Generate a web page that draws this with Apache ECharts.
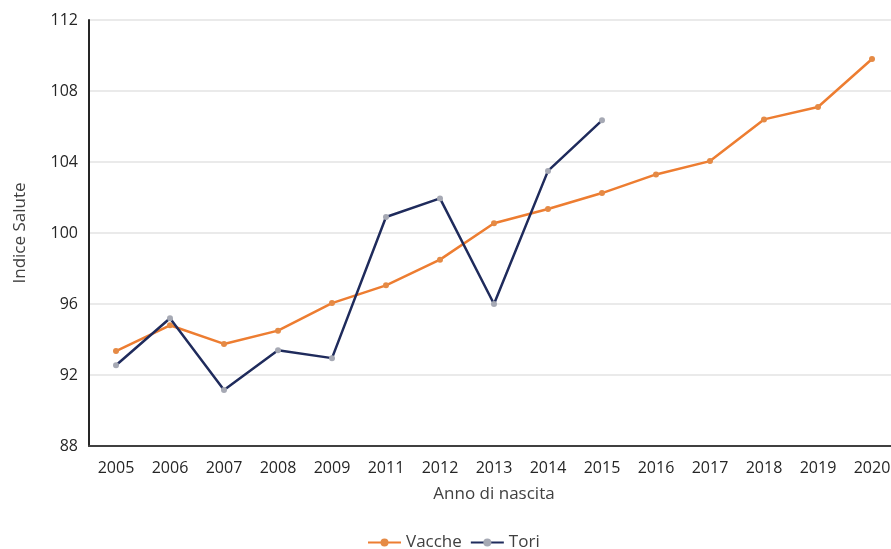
<!DOCTYPE html>
<html>
<head>
<meta charset="utf-8">
<script src="https://cdn.jsdelivr.net/npm/echarts@6/dist/echarts.min.js"></script>
<style>
  html, body { margin: 0; padding: 0; background: #fff; }
  #chart { width: 891px; height: 549px; }
</style>
</head>
<body>
<div id="chart"></div>
<script>
// Anni di nascita (il 2010 non è presente)
const anni = ['2005', '2006', '2007', '2008', '2009', '2011', '2012', '2013', '2014', '2015', '2016', '2017', '2018', '2019', '2020'];

// Indice Salute medio per anno di nascita
const vacche = [93.35, 94.8, 93.75, 94.5, 96.05, 97.05, 98.5, 100.55, 101.35, 102.25, 103.3, 104.05, 106.4, 107.1, 109.8];
const tori = [92.55, 95.2, 91.15, 93.4, 92.95, 100.9, 101.95, 96.0, 103.5, 106.35];

const yTicks = { min: 88, max: 112, interval: 4 };

const font = '"Open Sans", "Noto Sans", sans-serif';
const chart = echarts.init(document.getElementById('chart'));

chart.setOption({
  animation: false,
  textStyle: { fontFamily: font },
  grid: { left: 89, right: -8, top: 20, bottom: 103, containLabel: false, outerBoundsMode: 'none' },
  legend: {
    top: 529,
    left: 362,
    itemWidth: 33,
    itemHeight: 10,
    itemGap: 8,
    textStyle: { fontSize: 17, color: '#404040', fontFamily: font },
    data: ['Vacche', 'Tori']
  },
  xAxis: {
    type: 'category',
    data: anni,
    boundaryGap: true,
    name: 'Anno di nascita',
    nameLocation: 'middle',
    nameGap: 40,
    nameTextStyle: { fontSize: 17, color: '#404040' },
    axisLine: { lineStyle: { color: '#404040', width: 2 } },
    axisTick: { show: false },
    axisLabel: { fontSize: 16, color: '#262626', margin: 14 }
  },
  yAxis: {
    type: 'value',
    min: yTicks.min,
    max: yTicks.max,
    interval: yTicks.interval,
    name: 'Indice Salute',
    nameLocation: 'middle',
    nameGap: 60,
    nameTextStyle: { fontSize: 17, color: '#404040' },
    axisLine: { show: true, lineStyle: { color: '#262626', width: 2 } },
    axisTick: { show: false },
    axisLabel: { fontSize: 16, color: '#262626', margin: 11 },
    splitLine: { lineStyle: { color: '#E3E3E3', width: 1.5 } }
  },
  series: [
    {
      name: 'Vacche',
      type: 'line',
      data: vacche,
      symbol: 'circle',
      symbolSize: 6,
      lineStyle: { color: '#ED7D31', width: 2.5 },
      itemStyle: { color: '#E58A45' },
      z: 2
    },
    {
      name: 'Tori',
      type: 'line',
      data: tori,
      symbol: 'circle',
      symbolSize: 6,
      lineStyle: { color: '#1F2B5C', width: 2.5 },
      itemStyle: { color: '#A6A9B4' },
      z: 3
    }
  ]
});
</script>
</body>
</html>
